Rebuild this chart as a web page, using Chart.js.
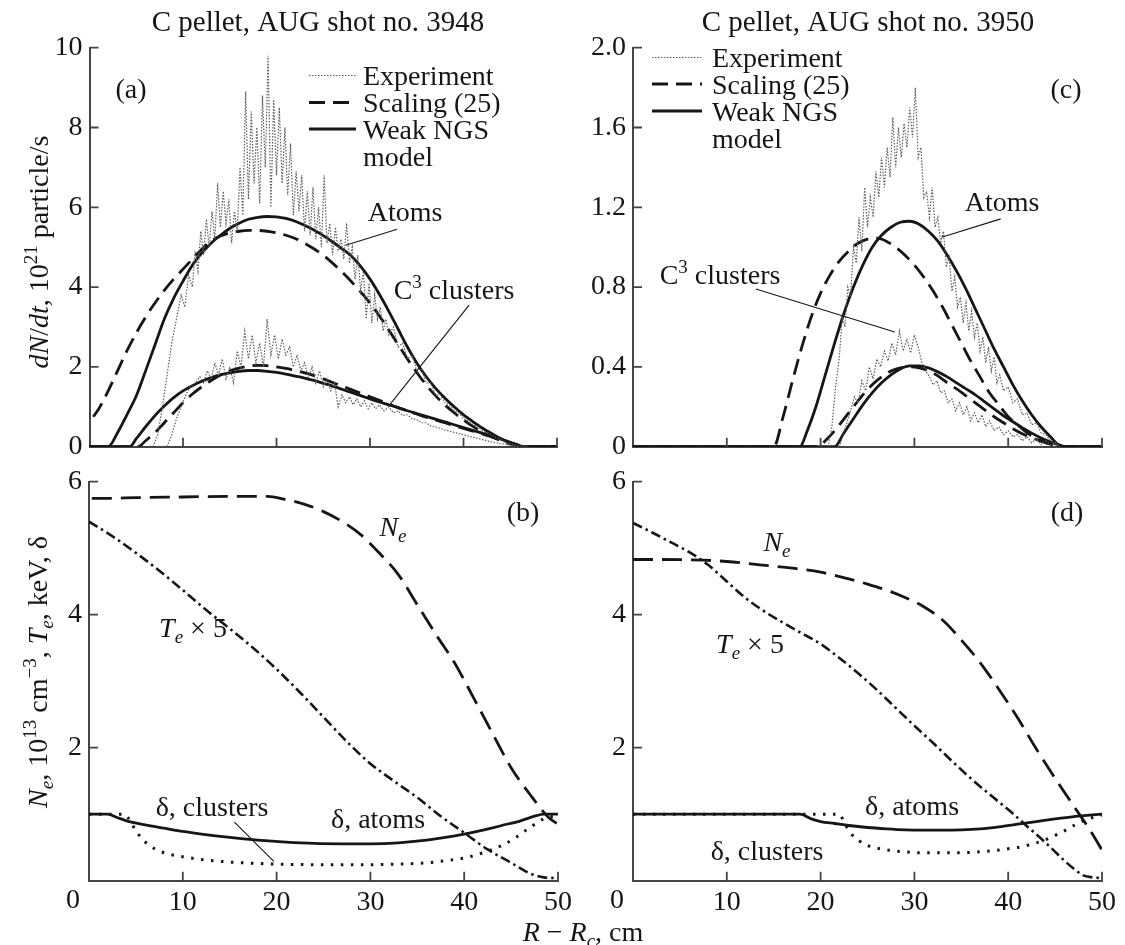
<!DOCTYPE html>
<html>
<head>
<meta charset="utf-8">
<title>C pellet ablation, AUG shots 3948 / 3950</title>
<script src="https://cdn.jsdelivr.net/npm/chart.js@4.4.1/dist/chart.umd.min.js"></script>
<style>
    html, body { margin: 0; padding: 0; background: #fff; }
    #wrap { position: relative; width: 1125px; height: 945px; }
    #wrap canvas { position: absolute; left: 0; top: 0; }
</style>
</head>
<body>
<div id="wrap">
    <canvas id="panelA" width="1125" height="945"></canvas>
    <canvas id="panelC" width="1125" height="945"></canvas>
    <canvas id="panelB" width="1125" height="945"></canvas>
    <canvas id="panelD" width="1125" height="945"></canvas>
</div>
<script>
// All curves are [R - Rc (cm), value] pairs
const xTicks = [0, 10, 20, 30, 40, 50];

// Shot 3948: ablation rate, 10^21 particle/s
const aExpAtoms = [[6.8,0],[7.3,0.3],[7.8,1.0],[8.3,1.8],[8.8,2.6],[9.3,3.2],[9.8,3.8],[10.2,3.5],[10.6,4.3],[11.0,4.0],[11.3,4.9],[11.6,4.4],[11.9,5.4],[12.2,4.8],[12.5,5.7],[12.8,5.0],[13.1,5.9],[13.4,5.2],[13.7,6.6],[14.0,5.5],[14.3,6.4],[14.6,5.6],[14.9,6.2],[15.2,5.1],[15.5,5.9],[15.8,5.4],[16.1,7.0],[16.4,5.8],[16.7,8.9],[17.0,6.2],[17.3,8.4],[17.6,6.6],[17.9,8.0],[18.2,6.1],[18.5,8.8],[18.8,7.0],[19.1,9.8],[19.4,6.0],[19.7,8.7],[20.0,6.8],[20.3,8.5],[20.6,6.6],[20.9,8.0],[21.2,6.3],[21.5,7.6],[21.8,5.8],[22.1,6.9],[22.4,5.9],[22.7,6.8],[23.0,5.4],[23.3,6.4],[23.6,5.3],[23.9,6.5],[24.2,5.2],[24.5,6.0],[24.8,5.0],[25.1,6.8],[25.4,5.1],[25.7,5.6],[26.0,4.8],[26.3,5.5],[26.6,4.9],[26.9,5.2],[27.2,4.7],[27.5,5.6],[27.8,4.6],[28.1,5.0],[28.4,4.2],[28.7,4.8],[29.0,3.9],[29.3,4.4],[29.6,3.2],[29.9,4.1],[30.2,3.1],[30.5,3.8],[30.8,3.2],[31.1,3.5],[31.4,2.9],[31.7,3.2],[32.0,2.8],[32.5,3.0],[33.0,2.5],[33.5,2.6],[34.0,2.2],[34.5,2.3],[35.0,1.9],[35.5,1.95],[36.0,1.6],[36.5,1.6],[37.0,1.3],[37.5,1.3],[38.0,1.1],[38.5,1.05],[39.0,0.9],[39.5,0.85],[40.0,0.7],[40.5,0.65],[41.0,0.55],[41.5,0.5],[42.0,0.4],[42.5,0.35],[43.0,0.3],[43.5,0.22],[44.0,0.18],[44.5,0.12],[45.0,0.08],[45.5,0.04],[46.0,0.02],[47.0,0]];
const aExpClusters = [[8.3,0],[8.8,0.3],[9.3,0.7],[9.8,1.0],[10.3,1.3],[10.8,1.5],[11.3,1.6],[11.8,1.75],[12.2,1.6],[12.6,1.9],[13.0,1.7],[13.4,2.1],[13.8,1.8],[14.2,2.2],[14.6,1.7],[15.0,2.0],[15.4,1.6],[15.8,2.4],[16.2,2.0],[16.6,2.9],[17.0,2.2],[17.4,2.8],[17.8,2.1],[18.2,2.6],[18.6,2.0],[19.0,3.2],[19.4,2.3],[19.8,2.8],[20.2,2.2],[20.6,2.7],[21.0,2.3],[21.4,2.5],[21.8,2.0],[22.2,2.3],[22.6,1.9],[23.0,2.1],[23.4,1.7],[23.8,2.0],[24.2,1.6],[24.6,1.9],[25.0,1.5],[25.4,1.7],[25.8,1.4],[26.2,1.6],[26.6,1.0],[27.0,1.3],[27.4,1.1],[27.8,1.25],[28.2,1.05],[28.6,1.2],[29.0,1.0],[29.4,1.15],[29.8,0.95],[30.2,1.1],[30.6,0.95],[31.0,1.05],[31.5,0.9],[32.0,1.0],[32.5,0.85],[33.0,0.9],[33.5,0.78],[34.0,0.8],[34.5,0.7],[35.0,0.68],[35.5,0.6],[36.0,0.6],[36.5,0.52],[37.0,0.5],[38.0,0.42],[39.0,0.36],[40.0,0.3],[41.0,0.24],[42.0,0.18],[43.0,0.12],[44.0,0.08],[45.0,0.04],[46.0,0]];
const aAtomsScaling = [[0.4,0.75],[1,0.95],[2,1.4],[3,1.9],[4,2.4],[5,2.85],[6,3.25],[7,3.6],[8,3.92],[9,4.2],[10,4.45],[11,4.7],[12,4.95],[13,5.15],[14,5.28],[15,5.36],[16,5.4],[17,5.42],[18,5.42],[19,5.4],[20,5.36],[21,5.3],[22,5.22],[23,5.1],[24,4.96],[25,4.8],[26,4.6],[27,4.38],[28,4.14],[29,3.88],[30,3.6],[31,3.28],[32,2.93],[33,2.56],[34,2.2],[35,1.86],[36,1.55],[37,1.28],[38,1.05],[39,0.85],[40,0.67],[41,0.51],[42,0.37],[43,0.25],[44,0.15],[45,0.07],[46,0.01],[46.3,0],[50,0]];
const aAtomsNGS = [[0,0],[2,0],[3,0.35],[4,0.8],[5,1.27],[6,1.9],[7,2.55],[8,3.2],[9,3.72],[10,4.15],[11,4.55],[12,4.85],[13,5.1],[14,5.3],[15,5.47],[16,5.6],[17,5.7],[18,5.75],[19,5.77],[20,5.76],[21,5.72],[22,5.65],[23,5.55],[24,5.43],[25,5.29],[26,5.13],[27,4.96],[28,4.78],[29,4.52],[30,4.2],[31,3.82],[32,3.4],[33,2.95],[34,2.5],[35,2.1],[36,1.76],[37,1.47],[38,1.22],[39,1.0],[40,0.8],[41,0.63],[42,0.47],[43,0.33],[44,0.2],[45,0.1],[46,0.02],[46.3,0],[50,0]];
const aClustersScaling = [[0,0],[5.2,0],[6,0.15],[7,0.35],[8,0.6],[9,0.85],[10,1.1],[11,1.32],[12,1.5],[13,1.66],[14,1.8],[15,1.9],[16,1.97],[17,2.02],[18,2.04],[19,2.03],[20,2.0],[21,1.96],[22,1.91],[23,1.85],[24,1.78],[25,1.7],[26,1.61],[27,1.52],[28,1.43],[29,1.34],[30,1.25],[31,1.16],[32,1.07],[33,0.98],[34,0.9],[35,0.82],[36,0.74],[37,0.67],[38,0.6],[39,0.53],[40,0.46],[41,0.39],[42,0.32],[43,0.25],[44,0.18],[45,0.1],[46,0.03],[46.4,0],[50,0]];
const aClustersNGS = [[0,0],[4.3,0],[5,0.2],[6,0.5],[7,0.78],[8,1.02],[9,1.23],[10,1.4],[11,1.53],[12,1.64],[13,1.73],[14,1.8],[15,1.85],[16,1.89],[17,1.91],[18,1.91],[19,1.89],[20,1.86],[21,1.82],[22,1.77],[23,1.72],[24,1.66],[25,1.59],[26,1.52],[27,1.44],[28,1.36],[29,1.28],[30,1.2],[31,1.12],[32,1.05],[33,0.98],[34,0.9],[35,0.83],[36,0.76],[37,0.69],[38,0.62],[39,0.55],[40,0.48],[41,0.41],[42,0.34],[43,0.27],[44,0.19],[45,0.11],[46,0.03],[46.4,0],[50,0]];

// Shot 3950: ablation rate, 10^21 particle/s
const cExpAtoms = [[20.8,0],[21.2,0.1],[21.6,0.3],[22.0,0.45],[22.3,0.65],[22.6,0.6],[22.9,0.8],[23.2,0.75],[23.5,1.0],[23.8,0.92],[24.1,1.15],[24.4,0.98],[24.7,1.3],[25.0,1.1],[25.3,1.25],[25.6,1.15],[25.9,1.38],[26.2,1.25],[26.5,1.45],[26.8,1.3],[27.1,1.5],[27.4,1.35],[27.7,1.65],[28.0,1.4],[28.3,1.6],[28.6,1.45],[28.9,1.62],[29.2,1.5],[29.5,1.7],[29.8,1.55],[30.1,1.8],[30.4,1.45],[30.7,1.5],[31.0,1.25],[31.3,1.28],[31.6,1.15],[31.9,1.3],[32.2,1.1],[32.5,1.15],[32.8,1.02],[33.1,1.08],[33.4,0.9],[33.7,0.95],[34.0,0.78],[34.3,0.85],[34.6,0.7],[34.9,0.75],[35.2,0.62],[35.5,0.72],[35.8,0.58],[36.1,0.68],[36.4,0.55],[36.7,0.62],[37.0,0.48],[37.3,0.55],[37.6,0.42],[37.9,0.5],[38.2,0.38],[38.5,0.45],[38.8,0.32],[39.1,0.36],[39.5,0.28],[40.0,0.3],[40.5,0.22],[41.0,0.24],[41.5,0.16],[42.0,0.17],[42.5,0.11],[43.0,0.12],[43.5,0.07],[44.0,0.06],[44.5,0.03],[45.0,0.02],[45.5,0]];
const cExpClusters = [[22.0,0],[22.4,0.06],[22.8,0.12],[23.2,0.18],[23.6,0.25],[24.0,0.22],[24.4,0.33],[24.8,0.28],[25.2,0.4],[25.6,0.34],[26.0,0.44],[26.4,0.4],[26.8,0.48],[27.2,0.43],[27.6,0.52],[28.0,0.46],[28.4,0.58],[28.8,0.48],[29.2,0.54],[29.6,0.47],[30.0,0.56],[30.4,0.5],[30.8,0.42],[31.2,0.38],[31.6,0.35],[32.0,0.31],[32.4,0.33],[32.8,0.27],[33.2,0.28],[33.6,0.22],[34.0,0.24],[34.4,0.18],[34.8,0.22],[35.2,0.16],[35.6,0.2],[36.0,0.13],[36.4,0.17],[36.8,0.12],[37.2,0.16],[37.6,0.1],[38.0,0.13],[38.5,0.08],[39.0,0.1],[39.5,0.06],[40.0,0.08],[40.5,0.05],[41.0,0.06],[41.5,0.03],[42.0,0.05],[42.5,0.02],[43.0,0.04],[43.5,0.01],[44.0,0.03],[44.5,0.01],[45.0,0.02],[45.5,0]];
const cAtomsScaling = [[0,0],[15,0],[16,0.15],[17,0.33],[18,0.5],[19,0.65],[20,0.77],[21,0.86],[22,0.93],[23,0.98],[24,1.02],[25,1.04],[26,1.045],[27,1.03],[28,1.0],[29,0.96],[30,0.91],[31,0.85],[32,0.78],[33,0.7],[34,0.61],[35,0.52],[36,0.43],[37,0.35],[38,0.27],[39,0.21],[40,0.15],[41,0.11],[42,0.07],[43,0.04],[44,0.02],[45,0.005],[45.5,0],[50,0]];
const cAtomsNGS = [[0,0],[17.8,0],[18.5,0.07],[19.5,0.2],[20.5,0.36],[21.5,0.52],[22.5,0.67],[23.5,0.8],[24.5,0.91],[25.5,1.0],[26.5,1.06],[27.5,1.1],[28.5,1.125],[29.5,1.13],[30.5,1.115],[31.5,1.08],[32.5,1.03],[33.5,0.96],[34.5,0.88],[35.5,0.79],[36.5,0.69],[37.5,0.59],[38.5,0.49],[39.5,0.4],[40.5,0.31],[41.5,0.23],[42.5,0.16],[43.5,0.1],[44.5,0.05],[45.2,0.015],[45.7,0],[50,0]];
const cClustersScaling = [[0,0],[19.8,0],[20.5,0.03],[21.5,0.08],[22.5,0.14],[23.5,0.2],[24.5,0.26],[25.5,0.31],[26.5,0.35],[27.5,0.38],[28.5,0.395],[29.5,0.4],[30.5,0.395],[31.5,0.38],[32.5,0.355],[33.5,0.32],[34.5,0.29],[35.5,0.255],[36.5,0.22],[37.5,0.185],[38.5,0.15],[39.5,0.12],[40.5,0.09],[41.5,0.065],[42.5,0.045],[43.5,0.028],[44.5,0.014],[45.5,0.004],[46,0],[50,0]];
const cClustersNGS = [[0,0],[21.5,0],[22.5,0.07],[23.5,0.14],[24.5,0.21],[25.5,0.27],[26.5,0.32],[27.5,0.36],[28.5,0.39],[29.5,0.405],[30.5,0.405],[31.5,0.395],[32.5,0.375],[33.5,0.35],[34.5,0.32],[35.5,0.29],[36.5,0.26],[37.5,0.225],[38.5,0.19],[39.5,0.155],[40.5,0.125],[41.5,0.095],[42.5,0.068],[43.5,0.044],[44.5,0.024],[45.5,0.008],[46,0],[50,0]];

// Plasma profiles: Ne (10^13 cm^-3), Te x 5 (keV), shielding factor delta
const bNe = [[0.3,5.75],[2,5.75],[5,5.76],[10,5.77],[15,5.78],[19,5.78],[21,5.73],[23,5.66],[25,5.55],[27,5.4],[29,5.2],[31,4.92],[33,4.6],[35,4.15],[37,3.7],[39,3.27],[41,2.75],[43,2.22],[45,1.7],[47,1.3],[49,0.95],[50,0.85]];
const bTe5 = [[0,5.4],[2.5,5.18],[5,4.93],[7.5,4.66],[10,4.37],[12.5,4.07],[15,3.79],[17.5,3.5],[20,3.18],[22.5,2.83],[25,2.46],[27.5,2.09],[30,1.76],[32.5,1.5],[35,1.25],[37.5,0.97],[40,0.72],[42.5,0.47],[45,0.27],[47,0.11],[48.5,0.05],[50,0.04]];
const bDeltaAtoms = [[0,1.0],[2,1.0],[3,0.95],[4,0.9],[6,0.84],[8,0.79],[10,0.74],[12,0.7],[15,0.65],[18,0.61],[21,0.58],[24,0.56],[27,0.555],[30,0.555],[33,0.57],[36,0.61],[38,0.65],[40,0.7],[42,0.76],[44,0.83],[46,0.9],[47.5,0.97],[48.5,1.0],[50,1.0]];
const bDeltaClusters = [[0,1.0],[3.8,1.0],[4.3,0.92],[5,0.75],[6,0.58],[7,0.48],[8,0.42],[10,0.36],[12,0.32],[15,0.28],[18,0.26],[20,0.25],[25,0.24],[30,0.24],[33,0.25],[36,0.27],[38,0.3],[40,0.34],[42,0.42],[44,0.53],[45.5,0.65],[47,0.8],[48.5,0.93],[50,0.98]];

const dNe = [[0,4.83],[3,4.83],[7.5,4.82],[10,4.8],[13.5,4.75],[17,4.7],[20,4.64],[23,4.54],[25,4.46],[27,4.37],[29,4.26],[31,4.12],[33,3.92],[35,3.62],[37,3.28],[39,2.88],[41,2.45],[43,1.98],[45,1.54],[47,1.12],[49,0.7],[50,0.46]];
const dTe5 = [[0,5.38],[2,5.24],[4,5.09],[6,4.94],[8,4.75],[10,4.5],[12,4.25],[14,4.05],[16,3.88],[18,3.72],[20,3.56],[22,3.35],[24,3.12],[26,2.87],[28,2.6],[30,2.33],[32,2.07],[34,1.8],[36,1.54],[38,1.3],[40,1.07],[42,0.82],[44,0.57],[46,0.3],[47,0.18],[48,0.08],[49,0.05],[50,0.04]];
const dDeltaAtoms = [[0,1.0],[17.8,1.0],[19,0.93],[20,0.89],[21.5,0.86],[23,0.83],[25,0.8],[27,0.78],[29,0.765],[31,0.76],[33,0.76],[35,0.765],[37,0.78],[39,0.81],[41,0.85],[43,0.89],[45,0.93],[47,0.965],[49,0.99],[50,1.0]];
const dDeltaClusters = [[0,1.0],[22,1.0],[22.6,0.85],[23.3,0.7],[24.1,0.6],[25,0.53],[26.8,0.47],[28.5,0.44],[30.7,0.42],[32.5,0.42],[34.5,0.42],[36.5,0.43],[38.3,0.45],[40,0.48],[41.4,0.51],[42.5,0.55],[43.7,0.6],[45,0.68],[46,0.75],[47,0.83],[48,0.9],[49,0.95],[50,0.99]];

const SERIF = "'Liberation Serif', 'Times New Roman', serif";
const INK = '#161616';
const AXIS = '#454545';
const FONT = 28;
const SMALL = 19;

const STYLES = {
    exp:   { borderColor: '#5e5e5e', borderWidth: 1.2, borderDash: [1.5, 1.5] },
    scal:  { borderColor: INK, borderWidth: 2.8, borderDash: [16, 8] },
    ngs:   { borderColor: INK, borderWidth: 2.8 },
    ne:    { borderColor: INK, borderWidth: 2.8, borderDash: [20, 9] },
    te:    { borderColor: INK, borderWidth: 2.6, borderDash: [10, 4, 2.5, 4] },
    dot:   { borderColor: INK, borderWidth: 3, borderDash: [2.5, 7.5] }
};

function line(arr, style) {
    const s = STYLES[style];
    return Object.assign({
        data: arr.map(p => ({ x: p[0], y: p[1] })),
        pointRadius: 0,
        fill: false,
        tension: style === 'exp' ? 0 : 0.4,
        cubicInterpolationMode: style === 'exp' ? 'default' : 'monotone'
    }, s);
}

// tiny markup: *italic*, ^{sup}, _{sub}
function parseRich(src) {
    const parts = [];
    let italic = false, buf = '', i = 0;
    const flush = () => { if (buf) { parts.push({ t: buf, it: italic }); buf = ''; } };
    while (i < src.length) {
        const c = src[i];
        if (c === '*') { flush(); italic = !italic; i++; }
        else if ((c === '^' || c === '_') && src[i + 1] === '{') {
            flush();
            const end = src.indexOf('}', i);
            parts.push({ t: src.slice(i + 2, end), it: italic, shift: c });
            i = end + 1;
        } else { buf += c; i++; }
    }
    flush();
    return parts;
}

function fontFor(p, size) {
    const base = size || FONT;
    return (p.it ? 'italic ' : '') + (p.shift ? Math.round(base * 0.68) : base) + 'px ' + SERIF;
}

function drawRich(ctx, src, x, y, align, rotate, size) {
    const parts = parseRich(src);
    ctx.save();
    ctx.translate(x, y);
    if (rotate) ctx.rotate(-Math.PI / 2);
    ctx.fillStyle = INK;
    ctx.textBaseline = 'alphabetic';
    ctx.textAlign = 'left';
    let total = 0;
    parts.forEach(p => { ctx.font = fontFor(p, size); total += ctx.measureText(p.t).width; });
    let cx = align === 'left' ? 0 : -total / 2;
    parts.forEach(p => {
        ctx.font = fontFor(p, size);
        const dy = p.shift === '^' ? -11 : p.shift === '_' ? 6 : 0;
        ctx.fillText(p.t, cx, dy);
        cx += ctx.measureText(p.t).width;
    });
    ctx.restore();
}

// inward ticks, labels, leader lines and the legend block
function decorPlugin(cfg) {
    return {
        id: 'decor',
        afterDraw(chart) {
            const { ctx, scales: { x, y } } = chart;
            ctx.save();
            ctx.strokeStyle = AXIS;
            ctx.lineWidth = 1.8;
            ctx.beginPath();
            x.ticks.forEach(t => {
                if (t.value === x.min) return;
                const px = x.getPixelForValue(t.value);
                ctx.moveTo(px, y.bottom);
                ctx.lineTo(px, y.bottom - 9);
            });
            y.ticks.forEach(t => {
                if (t.value === y.min) return;
                const py = y.getPixelForValue(t.value);
                ctx.moveTo(x.left, py);
                ctx.lineTo(x.left + 9, py);
            });
            ctx.stroke();

            ctx.strokeStyle = INK;
            ctx.lineWidth = 1.1;
            (cfg.leaders || []).forEach(l => {
                ctx.beginPath();
                ctx.moveTo(x.getPixelForValue(l[0]), y.getPixelForValue(l[1]));
                ctx.lineTo(x.getPixelForValue(l[2]), y.getPixelForValue(l[3]));
                ctx.stroke();
            });

            if (cfg.legend) {
                const lg = cfg.legend;
                const keys = ['exp', 'scal', 'ngs'];
                const names = ['Experiment', 'Scaling (25)', 'Weak NGS'];
                keys.forEach((k, i) => {
                    const s = STYLES[k];
                    ctx.save();
                    ctx.strokeStyle = s.borderColor;
                    ctx.lineWidth = s.borderWidth;
                    ctx.setLineDash(s.borderDash || []);
                    ctx.beginPath();
                    ctx.moveTo(lg.x0, lg.rows[i]);
                    ctx.lineTo(lg.x1, lg.rows[i]);
                    ctx.stroke();
                    ctx.restore();
                    drawRich(ctx, names[i], lg.tx, lg.rows[i] + 9.5, 'left');
                });
                drawRich(ctx, 'model', lg.tx, lg.rows[2] + 36.5, 'left');
            }

            (cfg.texts || []).forEach(t => drawRich(ctx, t.s, t.x, t.y, t.align, t.rot, t.size));
            ctx.restore();
        }
    };
}

function makePanel(id, area, yRange, xLabels, datasets, cfg) {
    const yAxisW = 60, xAxisH = 40;
    const tickFont = { family: SERIF, size: FONT };
    return new Chart(document.getElementById(id), {
        type: 'line',
        data: { datasets },
        options: {
            responsive: false,
            animation: false,
            devicePixelRatio: 1,
            layout: {
                padding: {
                    left: area.left - yAxisW,
                    right: 1125 - area.right,
                    top: area.top,
                    bottom: 945 - area.bottom - xAxisH
                }
            },
            plugins: { legend: { display: false }, tooltip: { enabled: false } },
            scales: {
                x: {
                    type: 'linear', min: 0, max: 50,
                    afterFit: s => { s.height = xAxisH; },
                    afterBuildTicks: s => { s.ticks = xTicks.map(v => ({ value: v })); },
                    grid: { display: true, drawOnChartArea: false, drawTicks: false },
                    border: { display: true, color: AXIS, width: 2 },
                    ticks: {
                        display: xLabels, font: tickFont, color: INK, padding: 5,
                        maxRotation: 0, autoSkip: false,
                        callback: v => (v === 0 ? '' : String(v))
                    }
                },
                y: {
                    type: 'linear', min: yRange.min, max: yRange.max,
                    afterFit: s => { s.width = yAxisW; },
                    afterBuildTicks: s => { s.ticks = yRange.ticks.map(v => ({ value: v })); },
                    grid: { display: true, drawOnChartArea: false, drawTicks: false },
                    border: { display: true, color: AXIS, width: 2 },
                    ticks: { font: tickFont, color: INK, padding: 7, callback: yRange.fmt }
                }
            }
        },
        plugins: [decorPlugin(cfg)]
    });
}

const rateTicksA = [0, 2, 4, 6, 8, 10];
const rateTicksC = [0, 0.4, 0.8, 1.2, 1.6, 2.0];
const profileTicks = [0, 2, 4, 6];

makePanel('panelA', { left: 89.5, right: 557, top: 47.7, bottom: 446.7 },
    { min: 0, max: 10, ticks: rateTicksA, fmt: v => String(v) }, false,
    [
        line(aExpAtoms, 'exp'), line(aExpClusters, 'exp'),
        line(aAtomsScaling, 'scal'), line(aClustersScaling, 'scal'),
        line(aAtomsNGS, 'ngs'), line(aClustersNGS, 'ngs')
    ],
    {
        legend: { x0: 309, x1: 356, tx: 363, rows: [75.5, 102.5, 129] },
        leaders: [[32.9, 5.45, 27.4, 5.05], [40.6, 3.55, 32.1, 1.05]],
        texts: [
            { s: 'C pellet, AUG shot no. 3948', x: 318, y: 31, size: 29 },
            { s: '(a)', x: 131, y: 98 },
            { s: 'Atoms', x: 405, y: 221 },
            { s: 'C^{3} clusters', x: 454, y: 299 },
            { s: '*dN*/*dt*, 10^{21} particle/s', x: 48, y: 252, rot: true }
        ]
    });

makePanel('panelC', { left: 633, right: 1102, top: 47.7, bottom: 446.7 },
    { min: 0, max: 2, ticks: rateTicksC, fmt: v => (v === 0 ? '0' : v.toFixed(1)) }, false,
    [
        line(cExpAtoms, 'exp'), line(cExpClusters, 'exp'),
        line(cAtomsScaling, 'scal'), line(cClustersScaling, 'scal'),
        line(cAtomsNGS, 'ngs'), line(cClustersNGS, 'ngs')
    ],
    {
        legend: { x0: 652, x1: 702, tx: 712, rows: [57.5, 84, 111] },
        leaders: [[39.2, 1.142, 32.9, 1.05], [13.1, 0.79, 27.9, 0.575]],
        texts: [
            { s: 'C pellet, AUG shot no. 3950', x: 868, y: 31, size: 29 },
            { s: '(c)', x: 1066, y: 98 },
            { s: 'Atoms', x: 1002, y: 211 },
            { s: 'C^{3} clusters', x: 720, y: 284 }
        ]
    });

makePanel('panelB', { left: 89, right: 558, top: 481.7, bottom: 880.7 },
    { min: 0, max: 6, ticks: profileTicks, fmt: v => (v === 0 ? '' : String(v)) }, true,
    [
        line(bNe, 'ne'), line(bTe5, 'te'),
        line(bDeltaClusters, 'dot'), line(bDeltaAtoms, 'ngs')
    ],
    {
        leaders: [[15.5, 0.88, 19.7, 0.29]],
        texts: [
            { s: '(b)', x: 523, y: 521 },
            { s: '*N_{e}*', x: 393, y: 536 },
            { s: '*T_{e}* × 5', x: 193, y: 637 },
            { s: 'δ, clusters', x: 212, y: 816 },
            { s: 'δ, atoms', x: 378, y: 828 },
            { s: '0', x: 73, y: 908 },
            { s: '*N_{e}*, 10^{13} cm^{−3}, *T_{e}*, keV, δ', x: 47, y: 672, rot: true },
            { s: '*R* − *R_{c}*, cm', x: 583, y: 941 }
        ]
    });

makePanel('panelD', { left: 633, right: 1102, top: 481.7, bottom: 880.7 },
    { min: 0, max: 6, ticks: profileTicks, fmt: v => (v === 0 ? '' : String(v)) }, true,
    [
        line(dNe, 'ne'), line(dTe5, 'te'),
        line(dDeltaClusters, 'dot'), line(dDeltaAtoms, 'ngs')
    ],
    {
        texts: [
            { s: '(d)', x: 1067, y: 521 },
            { s: '*N_{e}*', x: 777, y: 551 },
            { s: '*T_{e}* × 5', x: 750, y: 653 },
            { s: 'δ, atoms', x: 912, y: 815 },
            { s: 'δ, clusters', x: 767, y: 860 },
            { s: '0', x: 617, y: 908 }
        ]
    });
</script>
</body>
</html>
